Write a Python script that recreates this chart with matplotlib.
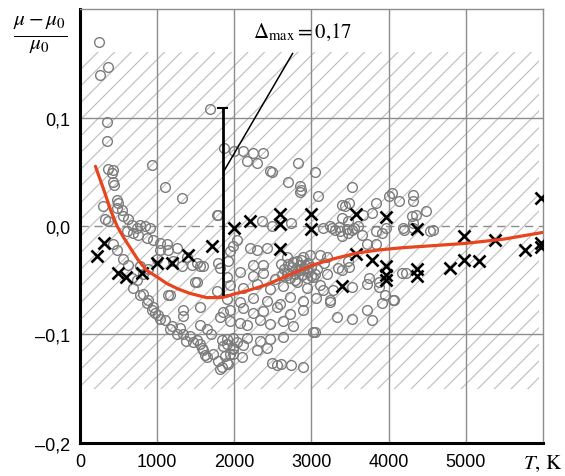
import numpy as np
import matplotlib
matplotlib.use('Agg')
import matplotlib.pyplot as plt

plt.rcParams['font.family'] = ['Liberation Sans', 'DejaVu Sans']
plt.rcParams['mathtext.fontset'] = 'stix'
plt.rcParams['hatch.linewidth'] = 0.8

# open circles (T, K ; (mu-mu0)/mu0)
circ_T = [246, 259, 362, 349, 349, 932, 365, 430, 415, 430, 440, 1100, 1320, 1680, 1860,
          480, 490, 480, 545, 300, 325, 360, 1770, 556, 620, 670, 740, 775, 840, 905,
          610, 690, 750, 865, 945, 1035, 1125, 1035, 1140, 1255, 1385, 1515, 1590,
          1785, 1810, 430, 480, 560, 620, 670, 740, 775, 820, 880, 1000, 1200, 1320,
          1450, 1555, 1515,
          690, 775, 865, 945, 1010, 1100, 1190, 1295, 1335, 1425, 1515, 1555, 1590, 1620,
          1720, 1785, 1810, 1900, 1940, 1980, 820, 880, 930, 970, 1035, 1165, 1255, 1380,
          1470, 1580, 1645, 1840, 1915, 1900, 1840, 1140, 1490, 1770, 1335, 1555, 1810,
          1165, 1335, 1555, 1940, 2070, 1980, 1700, 1650,
          2000, 2110, 2240, 2370, 2160, 2300, 2485, 2820, 3040, 2690, 2850, 2870, 2850,
          3080, 3520, 3390, 3430, 3840, 3790, 4010, 4040, 4140, 4310, 4310, 4300, 4490,
          4310, 4205, 3970, 4530, 1790,
          2355, 2485, 2740, 3235, 3300, 3365, 3400, 3470, 3530, 3600, 3660, 3840, 3920,
          3145, 3665, 2030, 1980, 1940, 1915, 2200, 2300, 2420, 2240, 2370,
          2680, 2810, 2885, 2975, 3105, 3195, 3165, 3340, 3470, 3715, 3840,
          2700, 2750, 2800, 2850, 2900, 2950, 3000, 2650, 2780, 2880, 2960, 3050, 2720, 2600,
          2760, 2830, 2910, 2990, 2680, 2860, 2940, 3070, 2620, 2790,
          1900, 2070, 2240, 2370, 2525, 2680, 2850, 3015, 3195,
          1940, 2110, 2290, 2460, 2630, 2810, 2940, 3105, 3275, 3530, 3715, 3880,
          1900, 2070, 2240, 2420, 2590, 2720, 2885, 3065, 3235,
          3715, 3920, 4075, 3325, 3520, 3780,
          1850, 2110, 2240, 2370, 2550, 2720, 2885,
          1940, 2160, 2330, 2460, 2630, 2760, 3040,
          1900, 2030, 2160, 2330, 2460, 2630,
          1850, 1980, 2110, 2290, 2420, 1875, 1980, 2095,
          2485, 2550, 2610, 2740, 2885,
          4230, 3390, 3490, 3750, 3880, 4050, 4170, 3950, 3145, 3235, 3015,
          2460, 3480, 4360, 4180, 4310, 4570, 3260, 3360, 3460, 3550, 3400, 3470]
circ_y = [0.170, 0.139, 0.147, 0.096, 0.078, 0.056, 0.053, 0.052, 0.049, 0.041, 0.038, 0.036, 0.026, 0.108, 0.072,
          0.024, 0.021, 0.017, 0.015, 0.018, 0.006, 0.005, 0.010, 0.009, 0.006, 0.001, -0.002, 0.001, 0.000, -0.002,
          -0.005, -0.006, -0.008, -0.011, -0.013, -0.016, -0.017, -0.022, -0.022, -0.020, -0.029, -0.034, -0.037,
          -0.034, -0.039, -0.017, -0.022, -0.030, -0.036, -0.048, -0.050, -0.037, -0.044, -0.040, -0.030, -0.032, -0.037,
          -0.036, -0.037, -0.052,
          -0.057, -0.064, -0.071, -0.075, -0.082, -0.087, -0.092, -0.094, -0.100, -0.101, -0.105, -0.109, -0.114, -0.119,
          -0.118, -0.124, -0.132, -0.126, -0.118, -0.112, -0.063, -0.068, -0.077, -0.080, -0.086, -0.095, -0.100, -0.106,
          -0.107, -0.112, -0.121, -0.130, -0.127, -0.109, -0.105, -0.064, -0.052, -0.060, -0.077, -0.091, -0.084,
          -0.064, -0.083, -0.075, -0.077, -0.089, -0.103, -0.100, -0.095,
          0.069, 0.069, 0.067, 0.067, 0.060, 0.058, 0.050, 0.058, 0.050, 0.041, 0.037, 0.033, 0.031,
          0.028, 0.036, 0.019, 0.018, 0.021, 0.012, 0.028, 0.030, 0.023, 0.029, 0.023, 0.009, 0.014,
          0.003, -0.004, -0.002, -0.005, 0.010,
          0.005, 0.000, 0.003, 0.000, -0.004, -0.005, -0.009, -0.006, -0.004, 0.000, -0.008, -0.005, -0.006,
          -0.002, 0.010, -0.013, -0.018, -0.023, -0.032, -0.020, -0.022, -0.020, -0.036, -0.036,
          -0.029, -0.032, -0.029, -0.027, -0.027, -0.029, -0.034, -0.039, -0.032, -0.017, -0.017,
          -0.035, -0.038, -0.040, -0.036, -0.039, -0.042, -0.038, -0.040, -0.044, -0.045, -0.034, -0.044, -0.048, -0.035,
          -0.033, -0.041, -0.036, -0.046, -0.043, -0.031, -0.048, -0.040, -0.045, -0.050,
          -0.047, -0.042, -0.046, -0.043, -0.049, -0.045, -0.041, -0.047, -0.044,
          -0.054, -0.057, -0.053, -0.058, -0.055, -0.052, -0.057, -0.054, -0.059, -0.056, -0.053, -0.056,
          -0.067, -0.070, -0.066, -0.069, -0.072, -0.065, -0.069, -0.066, -0.070,
          -0.077, -0.071, -0.068, -0.084, -0.086, -0.087,
          -0.079, -0.076, -0.080, -0.078, -0.075, -0.081, -0.077,
          -0.088, -0.091, -0.087, -0.090, -0.088, -0.092, -0.098,
          -0.104, -0.107, -0.103, -0.106, -0.104, -0.102,
          -0.111, -0.113, -0.110, -0.114, -0.112, -0.120, -0.118, -0.121,
          -0.126, -0.128, -0.127, -0.128, -0.130,
          -0.043, -0.041, -0.038, -0.048, -0.052, -0.068, -0.043, -0.064, -0.059, -0.068, -0.098,
          0.051, 0.021, 0.010, -0.002, -0.002, -0.004, -0.002, -0.001, -0.003, -0.002, 0.007, 0.005]

# crosses
cross_T = [220, 310, 490, 595, 800, 995, 1190, 1400, 1705, 2000, 2200, 2590, 2590, 2590,
           2990, 2990, 3390, 3580, 3580, 3790, 3970, 3970, 3970, 3970, 4370, 4370, 4370,
           4790, 4980, 4980, 5175, 5380, 5770, 5980, 5980, 5980]
cross_y = [-0.028, -0.016, -0.043, -0.047, -0.043, -0.034, -0.034, -0.027, -0.018, -0.002, 0.005, 0.011, 0.002, -0.021,
           0.011, -0.003, -0.055, 0.011, -0.026, -0.031, 0.008, -0.037, -0.045, -0.050, -0.003, -0.040, -0.046,
           -0.039, -0.009, -0.031, -0.032, -0.013, -0.022, 0.026, -0.016, -0.019]

# red fitted curve
fit_T = [200, 300, 400, 480, 560, 650, 750, 865, 1000, 1125, 1270, 1420, 1530, 1640, 1730,
         1810, 1900, 1980, 2200, 2420, 2650, 2845, 3015, 3300, 3580, 3880, 4180, 4600,
         5000, 5500, 5990]
fit_y = [0.055, 0.035, 0.014, 0.000, -0.010, -0.020, -0.031, -0.041, -0.047, -0.053, -0.058, -0.062, -0.064, -0.066, -0.066,
         -0.066, -0.065, -0.063, -0.059, -0.054, -0.047, -0.041, -0.036, -0.030, -0.025, -0.022, -0.020, -0.018,
         -0.016, -0.012, -0.006]

delta_T = 1850
delta_lo, delta_hi = -0.063, 0.109

xticks = [0, 1000, 2000, 3000, 4000, 5000, 6000]
xlabels = ['0', '1000', '2000', '3000', '4000', '5000', r'$T,\,\mathrm{K}$']
yticks = [-0.2, -0.1, 0.0, 0.1]
ylabels = ['\u20130,2', '\u20130,1', '0,0', '0,1']

fig = plt.figure(figsize=(5.65, 4.77), dpi=100)
ax = fig.add_axes([0.1416, 0.0692, 0.8194, 0.9098])
ax.set_xlim(0, 6000)
ax.set_ylim(-0.2, 0.2)

# hatched band
ax.fill_between([0, 5950], -0.15, 0.16, facecolor='none', edgecolor='#bdbdbd',
                linewidth=0, hatch='//', zorder=0)

grid_c = '#8c8c8c'
for t in [1000, 2000, 3000, 4000, 5000]:
    ax.axvline(t, color=grid_c, lw=1.0, zorder=1)
for v in [-0.1, 0.1]:
    ax.axhline(v, color=grid_c, lw=1.0, zorder=1)
ax.axhline(0.0, color=grid_c, lw=1.0, ls=(0, (6, 4)), zorder=1)

ax.plot(circ_T, circ_y, 'o', ms=7, mfc='none', mec='#7c7c7c', mew=1.0, zorder=2)
ax.plot(cross_T, cross_y, 'x', ms=8.5, mec='black', mew=1.9, zorder=3)
ax.plot(fit_T, fit_y, '-', color='#e8441e', lw=2.3, zorder=4, solid_capstyle='round')

# max deviation bar
ax.plot([delta_T, delta_T], [delta_lo, delta_hi], color='black', lw=2.0, zorder=5)
ax.plot([delta_T - 60, delta_T + 60], [delta_hi, delta_hi], color='black', lw=1.5, zorder=5)
ax.plot([1860, 2755], [0.050, 0.159], color='black', lw=1.1, zorder=5)
ax.text(2880, 0.179, r'$\Delta_{\max} = 0{,}17$', fontsize=15, ha='center', va='center')

ax.set_xticks(xticks)
ax.set_xticklabels(xlabels, fontsize=13)
ax.set_yticks(yticks)
ax.set_yticklabels(ylabels, fontsize=13)
ax.tick_params(length=0, pad=7)
for lab in ax.get_xticklabels()[-1:]:
    lab.set_fontsize(15)

for s in ['left', 'bottom']:
    ax.spines[s].set_linewidth(2.2)
    ax.spines[s].set_color('black')
for s in ['top', 'right']:
    ax.spines[s].set_linewidth(1.0)
    ax.spines[s].set_color(grid_c)

fig.text(0.072, 0.925, r'$\frac{\mu-\mu_0}{\mu_0}$', fontsize=22, ha='center', va='center')

fig.savefig('out.png', dpi=100)
